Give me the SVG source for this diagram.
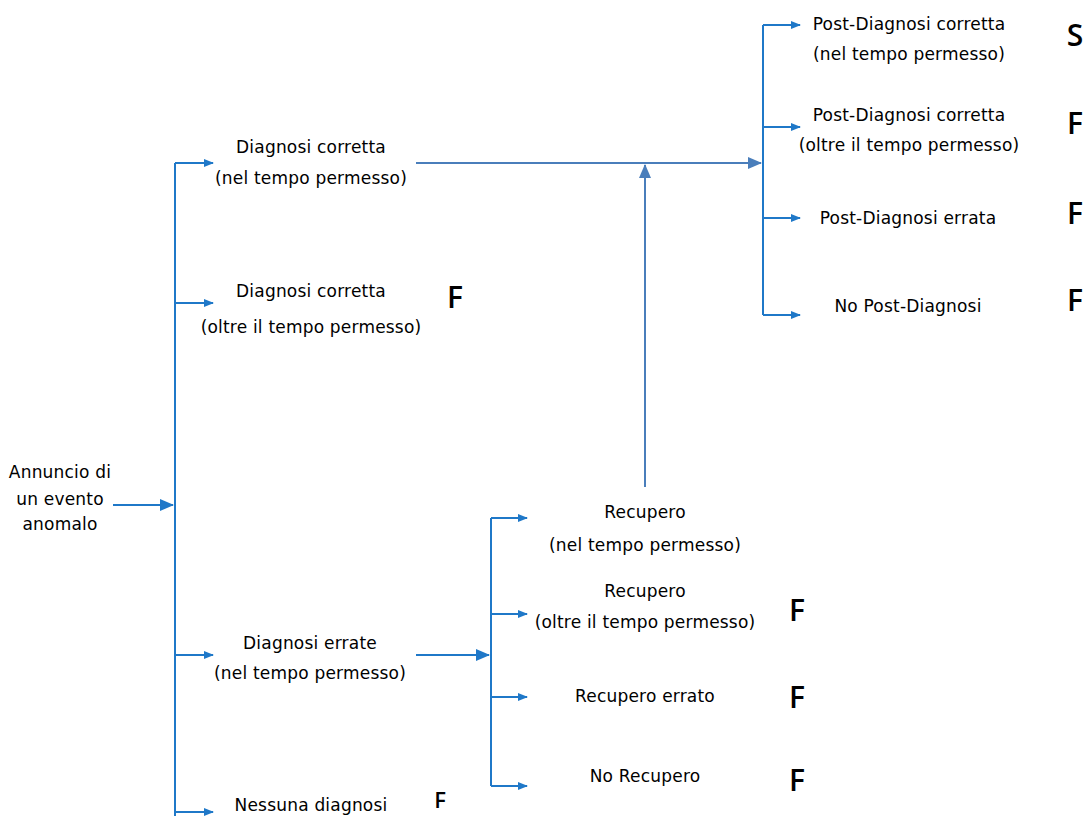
<svg xmlns="http://www.w3.org/2000/svg" width="1089" height="816" viewBox="0 0 1089 816">
<defs>
<marker id="sm" markerWidth="10" markerHeight="8" refX="9" refY="4" orient="auto" markerUnits="userSpaceOnUse"><path d="M0,0 L10,4 L0,8 Z" fill="#1f78c8"/></marker>
<marker id="lg" markerWidth="14" markerHeight="12" refX="13" refY="6" orient="auto" markerUnits="userSpaceOnUse"><path d="M0,0 L14,6 L0,12 Z" fill="#1f78c8"/></marker>
<marker id="lg2" markerWidth="14" markerHeight="12" refX="13" refY="6" orient="auto" markerUnits="userSpaceOnUse"><path d="M0,0 L14,6 L0,12 Z" fill="#4a7ebb"/></marker>
</defs>
<style>
.t{font-family:"DejaVu Sans","Liberation Sans",sans-serif;font-size:17px;letter-spacing:0.2px;fill:#000;text-anchor:middle}
.r{font-family:"Open Sans","Liberation Sans",sans-serif;font-size:30px;font-weight:600;fill:#000;text-anchor:middle}
.c{stroke:#1f78c8;stroke-width:2;fill:none}
.c2{stroke:#4a7ebb;stroke-width:2;fill:none}
</style>
<rect width="1089" height="816" fill="#fff"/>
<g id="connectors">
<line class="c" x1="113" y1="505" x2="173" y2="505" marker-end="url(#lg)"/>
<line class="c" x1="175" y1="163" x2="175" y2="816"/>
<line class="c" x1="175" y1="163" x2="213" y2="163" marker-end="url(#sm)"/>
<line class="c" x1="175" y1="303" x2="213" y2="303" marker-end="url(#sm)"/>
<line class="c" x1="175" y1="655" x2="213" y2="655" marker-end="url(#sm)"/>
<line class="c" x1="175" y1="812" x2="213" y2="812" marker-end="url(#sm)"/>
<line class="c2" x1="416" y1="163" x2="761" y2="163" marker-end="url(#lg2)"/>
<line class="c2" x1="645" y1="487" x2="645" y2="165" marker-end="url(#lg2)"/>
<line class="c" x1="763" y1="25" x2="763" y2="315"/>
<line class="c" x1="763" y1="25" x2="800" y2="25" marker-end="url(#sm)"/>
<line class="c" x1="763" y1="127" x2="800" y2="127" marker-end="url(#sm)"/>
<line class="c" x1="763" y1="218" x2="800" y2="218" marker-end="url(#sm)"/>
<line class="c" x1="763" y1="315" x2="800" y2="315" marker-end="url(#sm)"/>
<line class="c" x1="416" y1="655" x2="489" y2="655" marker-end="url(#lg)"/>
<line class="c" x1="491" y1="518" x2="491" y2="786"/>
<line class="c" x1="491" y1="518" x2="527" y2="518" marker-end="url(#sm)"/>
<line class="c" x1="491" y1="614" x2="527" y2="614" marker-end="url(#sm)"/>
<line class="c" x1="491" y1="697" x2="527" y2="697" marker-end="url(#sm)"/>
<line class="c" x1="491" y1="786" x2="527" y2="786" marker-end="url(#sm)"/>
</g>
<g id="start"><text class="t" x="60" y="478">Annuncio di</text><text class="t" x="60" y="505">un evento</text><text class="t" x="60" y="530">anomalo</text></g>
<g id="dc1"><text class="t" x="311" y="153">Diagnosi corretta</text><text class="t" x="311" y="184">(nel tempo permesso)</text></g>
<g id="dc2"><text class="t" x="311" y="297">Diagnosi corretta</text><text class="t" x="311" y="333">(oltre il tempo permesso)</text><text class="r" x="455" y="308">F</text></g>
<g id="de"><text class="t" x="310" y="649">Diagnosi errate</text><text class="t" x="310" y="679">(nel tempo permesso)</text></g>
<g id="nd"><text class="t" x="311" y="811">Nessuna diagnosi</text><text class="r" x="440" y="808" style="font-size:22px">F</text></g>
<g id="pd1"><text class="t" x="909" y="30">Post-Diagnosi corretta</text><text class="t" x="909" y="60">(nel tempo permesso)</text><text class="r" x="1075" y="46">S</text></g>
<g id="pd2"><text class="t" x="909" y="121">Post-Diagnosi corretta</text><text class="t" x="909" y="151">(oltre il tempo permesso)</text><text class="r" x="1075" y="134">F</text></g>
<g id="pd3"><text class="t" x="908" y="224">Post-Diagnosi errata</text><text class="r" x="1075" y="224">F</text></g>
<g id="pd4"><text class="t" x="908" y="312">No Post-Diagnosi</text><text class="r" x="1075" y="311">F</text></g>
<g id="r1"><text class="t" x="645" y="518">Recupero</text><text class="t" x="645" y="551">(nel tempo permesso)</text></g>
<g id="r2"><text class="t" x="645" y="597">Recupero</text><text class="t" x="645" y="628">(oltre il tempo permesso)</text><text class="r" x="797" y="621">F</text></g>
<g id="r3"><text class="t" x="645" y="702">Recupero errato</text><text class="r" x="797" y="708">F</text></g>
<g id="r4"><text class="t" x="645" y="782">No Recupero</text><text class="r" x="797" y="791">F</text></g>
</svg>
